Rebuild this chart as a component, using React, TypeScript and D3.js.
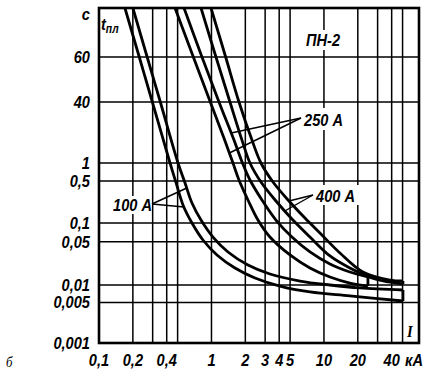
import React from "react";
import * as d3 from "d3";

// ---- axis definitions ----
const xTickValues = [0.1, 0.2, 0.4, 1, 2, 3, 4, 5, 10, 20, 40];
const xTickLabels = ["0,1", "0,2", "0,4", "1", "2", "3", "4", "5", "10", "20", "40"];
const xGridValues = [0.2, 0.3, 0.4, 0.5, 1, 2, 3, 4, 5, 10, 20, 30, 40, 50];
const yTickValues = [60, 40, 1, 0.5, 0.1, 0.05, 0.01, 0.005, 0.001];
const yTickLabels = ["60", "40", "1", "0,5", "0,1", "0,05", "0,01", "0,005", "0,001"];
const yGridValues = [60, 40, 1, 0.5, 0.1, 0.05, 0.01, 0.005];
// broken (non-uniform) time axis: break values and their relative heights
const yBreakValues = [0.001, 0.01, 0.1, 1, 40, 60, 100];
const yBreakFractions = [0, 0.1731, 0.3582, 0.5373, 0.7194, 0.8537, 1];

// ---- curves: current I (kA) vs melting time t (s) ----
const fuse100LowI = [0.17, 0.228, 0.298, 0.428, 0.484, 0.558, 0.671, 0.84, 1.119, 1.618, 2.436, 4.06, 7.51, 17.0, 50.4];
const fuse100LowT = [100, 60, 40, 1, 0.47, 0.2, 0.1, 0.0532, 0.0305, 0.0188, 0.013, 0.0096, 0.0076, 0.0065, 0.0053];
const fuse100HighI = [0.2, 0.268, 0.351, 0.504, 0.581, 0.671, 0.807, 1.031, 1.402, 2.11, 3.31, 6.12, 11.31, 20.9, 50.4];
const fuse100HighT = [100, 60, 40, 1, 0.47, 0.215, 0.112, 0.0594, 0.0341, 0.021, 0.01505, 0.0116, 0.01, 0.0089, 0.0082];
const fuse250LowI = [0.474, 0.69, 0.976, 1.31, 1.553, 1.756, 2.11, 2.59, 3.31, 4.99, 7.51, 11.31, 17.0, 24.6];
const fuse250LowT = [100, 60, 40, 4, 1, 0.521, 0.242, 0.112, 0.0594, 0.0305, 0.0188, 0.01346, 0.01077, 0.00961];
const fuse250HighI = [0.57, 0.823, 1.166, 1.585, 1.886, 2.199, 2.811, 3.744, 5.194, 7.51, 11.31, 17.0, 24.6];
const fuse250HighT = [100, 60, 40, 4, 1, 0.521, 0.242, 0.112, 0.0594, 0.0341, 0.0218, 0.0162, 0.01346];
const fuse400LowI = [0.807, 1.096, 1.46, 1.867, 2.199, 2.754, 3.744, 5.194, 7.51, 11.31, 17.0, 28.4, 50.4];
const fuse400LowT = [100, 60, 40, 4, 1, 0.482, 0.2326, 0.1166, 0.0594, 0.0294, 0.0188, 0.0125, 0.01038];
const fuse400HighI = [0.99, 1.337, 1.756, 2.291, 2.754, 3.522, 4.886, 6.779, 9.21, 13.88, 22.2, 38.6, 50.4];
const fuse400HighT = [100, 60, 40, 4, 1, 0.482, 0.2326, 0.121, 0.069, 0.0328, 0.0162, 0.012, 0.0116];

const W = 433;
const H = 380;
const M = { left: 99, top: 8, right: 14, bottom: 37 };
const PW = W - M.left - M.right;
const PH = H - M.top - M.bottom;

const FONT = "'Liberation Sans', 'Arial', sans-serif";
const SX = 0.86;

function Lbl(props: { x: number; y: number; anchor?: string; size?: number; children: React.ReactNode; family?: string; weight?: number }) {
  const { x, y, anchor = "start", size = 17, children, family = FONT, weight = 700 } = props;
  return (
    <text
      transform={`translate(${x},${y}) scale(${SX},1)`}
      textAnchor={anchor as any}
      style={{ fontFamily: family, fontStyle: "italic", fontWeight: weight, fontSize: size }}
    >
      {children}
    </text>
  );
}

export default function App() {
  const x = d3.scaleLog().domain([0.1, 70]).range([M.left, M.left + PW]);
  const yl = d3
    .scaleLinear()
    .domain(yBreakValues.map(Math.log10))
    .range(yBreakFractions.map((f) => M.top + PH - f * PH));
  const y = (v: number) => yl(Math.log10(v));

  const curves = [
    [fuse100LowI, fuse100LowT],
    [fuse100HighI, fuse100HighT],
    [fuse250LowI, fuse250LowT],
    [fuse250HighI, fuse250HighT],
    [fuse400LowI, fuse400LowT],
    [fuse400HighI, fuse400HighT],
  ];
  const line = d3
    .line<[number, number]>()
    .x((d) => d[0])
    .y((d) => d[1])
    .curve(d3.curveCatmullRom.alpha(0.5));

  const pix = curves.map(([I, T]) => I.map((v, i) => [x(v), y(T[i])] as [number, number]));
  const xAtY = (k: number, yy: number) => {
    const p = pix[k];
    for (let i = 0; i < p.length - 1; i++) {
      const [x0, y0] = p[i];
      const [x1, y1] = p[i + 1];
      if ((yy >= y0 && yy <= y1) || (yy <= y0 && yy >= y1)) {
        return x0 + ((yy - y0) / (y1 - y0)) * (x1 - x0);
      }
    }
    return p[p.length - 1][0];
  };
  const last = (k: number) => pix[k][pix[k].length - 1];
  const caps = [
    [0, 1],
    [2, 3],
    [4, 5],
  ];

  // leader tips: [curve index, pixel y]
  const leaders = [
    { from: [152, 204], tips: [[1, 188], [0, 207]] },
    { from: [301, 118], tips: [[3, 133], [2, 153]] },
    { from: [313, 195], tips: [[5, 201], [4, 211]] },
  ];

  return (
    <svg width={W} height={H} style={{ position: "absolute", left: 0, top: 0, background: "#fff" }}>
      {/* grid */}
      {xGridValues.map((v) => (
        <line key={"gx" + v} x1={x(v)} x2={x(v)} y1={M.top} y2={M.top + PH} stroke="#000" strokeWidth={1.5} />
      ))}
      {yGridValues.map((v) => (
        <line key={"gy" + v} x1={M.left} x2={M.left + PW} y1={y(v)} y2={y(v)} stroke="#000" strokeWidth={1.5} />
      ))}
      {/* label backgrounds */}
      <rect x={304} y={30} width={40} height={20} fill="#fff" />
      <rect x={303} y={108} width={46} height={22} fill="#fff" />
      <rect x={314} y={185} width={46} height={20} fill="#fff" />
      <rect x={111} y={196} width={40} height={18} fill="#fff" />
      {/* frame */}
      <rect x={M.left} y={M.top} width={PW} height={PH} fill="none" stroke="#000" strokeWidth={2.6} />
      {/* curves */}
      {pix.map((p, i) => (
        <path key={"c" + i} d={line(p) || ""} fill="none" stroke="#000" strokeWidth={2.8} />
      ))}
      {caps.map(([a, b], i) => (
        <line key={"cap" + i} x1={last(a)[0]} x2={last(b)[0]} y1={last(a)[1]} y2={last(b)[1]} stroke="#000" strokeWidth={2.8} />
      ))}
      {/* leaders */}
      {leaders.map((l, i) =>
        l.tips.map(([k, yy], j) => (
          <line key={"l" + i + j} x1={l.from[0]} y1={l.from[1]} x2={xAtY(k, yy)} y2={yy} stroke="#000" strokeWidth={1.4} />
        ))
      )}
      {/* y tick labels */}
      {yTickValues.map((v, i) => (
        <Lbl key={"ty" + v} x={90} y={y(v) + 6} anchor="end">
          {yTickLabels[i]}
        </Lbl>
      ))}
      {/* x tick labels */}
      {xTickValues.map((v, i) => (
        <Lbl key={"tx" + v} x={x(v)} y={366} anchor="middle">
          {xTickLabels[i]}
        </Lbl>
      ))}
      <Lbl x={405} y={366}>кА</Lbl>
      <Lbl x={90} y={20} anchor="end">c</Lbl>
      <Lbl x={101} y={30}>
        t<tspan fontSize={12} dy={3}>пл</tspan>
      </Lbl>
      <Lbl x={306} y={46}>ПН-2</Lbl>
      <Lbl x={304} y={126}>250 А</Lbl>
      <Lbl x={316} y={202}>400 А</Lbl>
      <Lbl x={113} y={211}>100 А</Lbl>
      <Lbl x={407} y={337} family="'Liberation Serif', serif">I</Lbl>
      <Lbl x={6} y={367} size={15} weight={400} family="'Liberation Serif', serif">б</Lbl>
    </svg>
  );
}
